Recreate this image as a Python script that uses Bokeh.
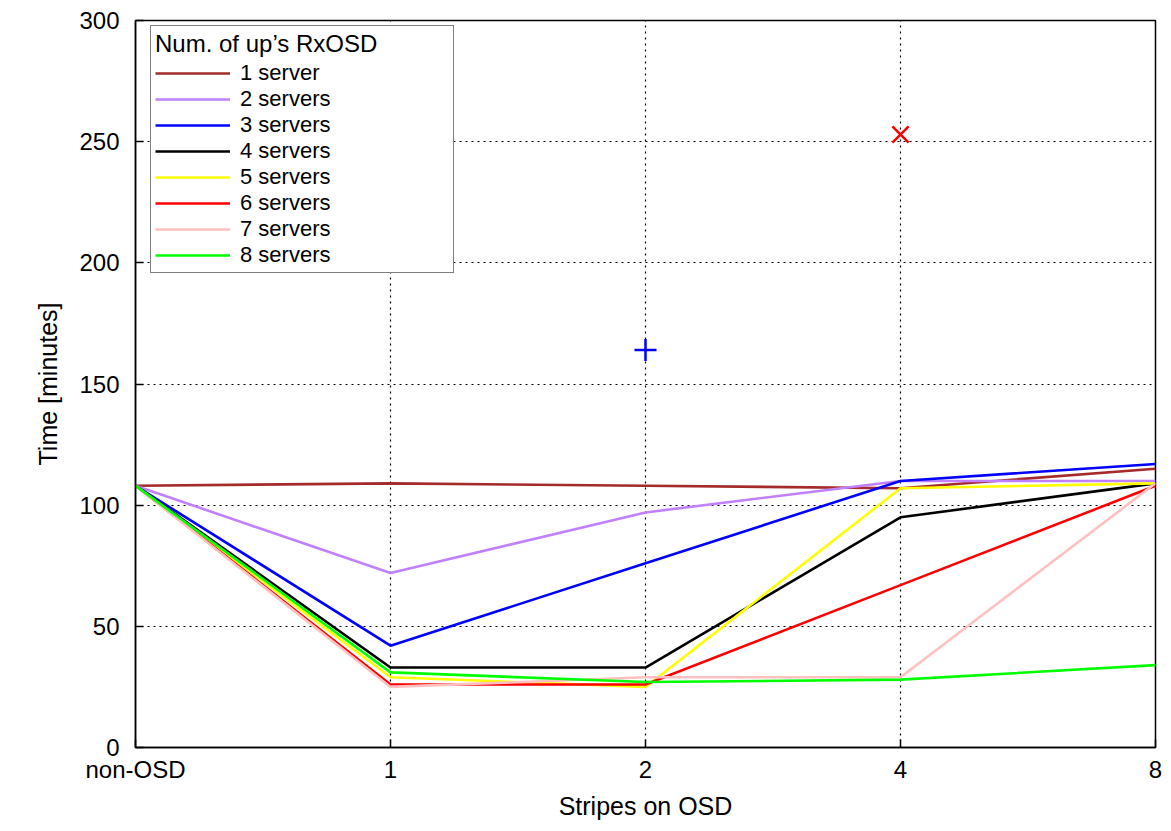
from bokeh.plotting import figure
from bokeh.models import FixedTicker, Legend, LegendItem, Range1d
from bokeh.embed import file_html
from bokeh.resources import INLINE

categories = ["non-OSD", "1", "2", "4", "8"]
series_names = ["1 server", "2 servers", "3 servers", "4 servers",
                "5 servers", "6 servers", "7 servers", "8 servers"]
s1 = [108, 109, 108, 107, 115]
s2 = [108, 72, 97, 110, 110]
s3 = [108, 42, 76, 110, 117]
s4 = [108, 33, 33, 95, 109]
s5 = [108, 29, 25, 107, 109]
s6 = [108, 26, 26, 67, 108]
s7 = [108, 25, 29, 29, 109]
s8 = [108, 31, 27, 28, 34]
series = [s1, s2, s3, s4, s5, s6, s7, s8]
colors = ["#a52a2a", "#c080ff", "#0000ff", "#000000",
          "#ffff00", "#ff0000", "#ffc0c0", "#00ff00"]

plus_x = [2]
plus_y = [164]
cross_x = [3]
cross_y = [253]

xs = list(range(len(categories)))
FONT = "Liberation Sans"

p = figure(width=1163, height=823, output_backend="svg", toolbar_location=None,
           x_range=Range1d(0, 4), y_range=Range1d(0, 300),
           min_border_left=135, min_border_top=20, min_border_right=8,
           min_border_bottom=76)
p.background_fill_color = "white"
p.border_fill_color = "white"
p.outline_line_color = "black"
p.outline_line_width = 1.5

xt = FixedTicker(ticks=xs, minor_ticks=[])
yt = FixedTicker(ticks=[0, 50, 100, 150, 200, 250, 300], minor_ticks=[])

p.xaxis.ticker = xt
p.xaxis.major_label_overrides = {i: c for i, c in enumerate(categories)}
p.yaxis.ticker = yt
for ax in [p.xaxis[0], p.yaxis[0]]:
    ax.major_tick_in = 8
    ax.major_tick_out = 0
    ax.minor_tick_line_color = None
    ax.axis_line_color = "black"
    ax.axis_line_width = 1.5
    ax.major_tick_line_color = "black"
    ax.major_tick_line_width = 1.5
    ax.major_label_text_font = FONT
    ax.major_label_text_color = "black"
    ax.axis_label_text_font = FONT
    ax.axis_label_text_font_style = "normal"
    ax.axis_label_text_color = "black"

p.xaxis.major_label_text_font_size = "24px"
p.yaxis.major_label_text_font_size = "24px"
p.xaxis.axis_label_text_font_size = "25px"
p.yaxis.axis_label_text_font_size = "25px"
p.xaxis.major_label_standoff = 8
p.yaxis.major_label_standoff = 16
p.xaxis.axis_label = "Stripes on OSD"
p.yaxis.axis_label = "Time [minutes]"
p.xaxis.axis_label_standoff = 6
p.yaxis.axis_label_standoff = 14

p.xgrid.ticker = xt
p.ygrid.ticker = yt
for g in [p.xgrid[0], p.ygrid[0]]:
    g.grid_line_color = "black"
    g.grid_line_dash = "2 4"
    g.grid_line_width = 1.2

items = []
for name, vals, col in zip(series_names, series, colors):
    r = p.line(xs, vals, line_color=col, line_width=2.6)
    items.append(LegendItem(label=name, renderers=[r]))

p.scatter(plus_x, plus_y, marker="cross", size=22, line_color="#0000ff", line_width=2.5)
p.scatter(cross_x, cross_y, marker="x", size=23, line_color="#ff0000", line_width=2.5)

legend = Legend(items=items, location=(15, 474), title="Num. of up\u2019s RxOSD",
                title_text_font=FONT, title_text_font_size="24px",
                title_text_font_style="normal", title_text_color="black",
                title_standoff=2,
                label_text_font=FONT, label_text_font_size="22px",
                label_text_color="black",
                label_height=25, glyph_height=20, glyph_width=75,
                label_standoff=10, label_width=209, spacing=0, padding=4,
                margin=0, border_line_color="black", border_line_width=1.5,
                background_fill_alpha=1.0)
p.add_layout(legend)

open("out.html", "w").write(file_html(p, INLINE))
